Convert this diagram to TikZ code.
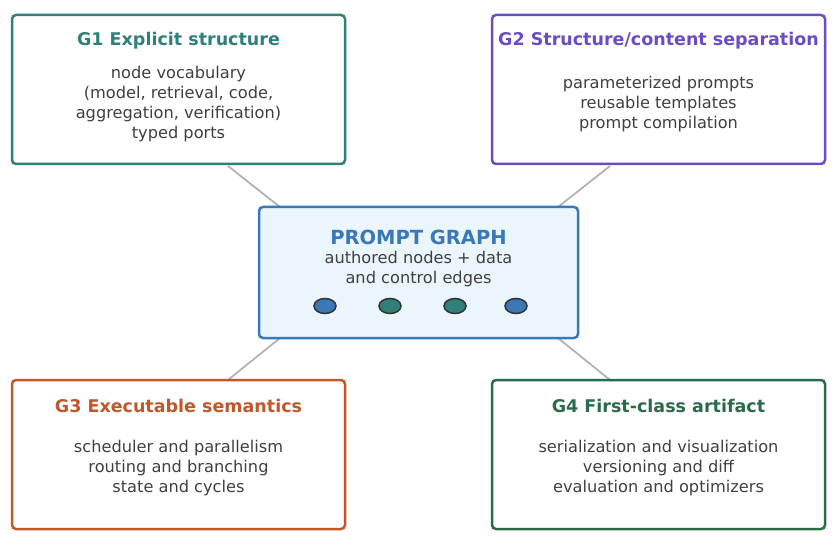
\documentclass[tikz,border=0pt]{standalone}
\usepackage{fontspec}
\usetikzlibrary{shapes.geometric}
\setmainfont{DejaVu Sans}
\begin{document}
\begin{tikzpicture}[x=1pt,y=-1pt,
 box/.style={draw,line width=2.5pt,rounded corners=4pt},
 ttl/.style={font=\fontsize{17.5}{20}\selectfont\bfseries},
 body/.style={font=\fontsize{16.2}{20}\selectfont,text=black!75,align=center},
 link/.style={draw=black!30,line width=1.8pt},
 dot/.style={draw=black!80,line width=1.5pt,ellipse,minimum width=22pt,minimum height=15pt,inner sep=0pt}]
\useasboundingbox (0,0) rectangle (836,548);
\definecolor{cA}{HTML}{2F7F7A}\definecolor{cB}{HTML}{6A4CC4}
\definecolor{cC}{HTML}{C0582A}\definecolor{cD}{HTML}{2A6B4A}
\definecolor{cE}{HTML}{3A78B8}\definecolor{cF}{HTML}{EAF5FC}
\coordinate (l1a) at (228,166); \coordinate (l1b) at (280,207);
\coordinate (l2a) at (610,166); \coordinate (l2b) at (558,207);
\coordinate (l3a) at (228,380); \coordinate (l3b) at (280,338);
\coordinate (l4a) at (610,380); \coordinate (l4b) at (558,338);
\draw[link] (l1a)--(l1b); \draw[link] (l2a)--(l2b);
\draw[link] (l3a)--(l3b); \draw[link] (l4a)--(l4b);
\draw[box,cA,fill=white] (12,15) rectangle (345,164);
\draw[box,cB,fill=white] (492,15) rectangle (825,164);
\draw[box,cC,fill=white] (12,380) rectangle (345,529);
\draw[box,cD,fill=white] (492,380) rectangle (825,529);
\draw[box,cE,fill=cF] (259,207) rectangle (578,338);
\node[ttl,text=cA] (t1) at (178.5,41) {G1 Explicit structure};
\node[body] (b1) at (178.5,104) {node vocabulary\\(model, retrieval, code,\\aggregation, verification)\\typed ports};
\node[ttl,text=cB] (t2) at (658.5,41) {G2 Structure/content separation};
\node[body] (b2) at (658.5,104) {parameterized prompts\\reusable templates\\prompt compilation};
\node[ttl,text=cC] (t3) at (178.5,406) {G3 Executable semantics};
\node[body] (b3) at (178.5,468) {scheduler and parallelism\\routing and branching\\state and cycles};
\node[ttl,text=cD] (t4) at (658.5,406) {G4 First-class artifact};
\node[body] (b4) at (658.5,468) {serialization and visualization\\versioning and diff\\evaluation and optimizers};
\node[font=\fontsize{19.5}{22}\selectfont\bfseries,text=cE] (tc) at (418.5,237) {PROMPT GRAPH};
\node[body] (bc) at (418.5,269) {authored nodes + data\\and control edges};
\node[dot,fill=cE] (d1) at (325,306) {};
\node[dot,fill=cA] (d2) at (390,306) {};
\node[dot,fill=cA] (d3) at (455,306) {};
\node[dot,fill=cE] (d4) at (516,306) {};
\end{tikzpicture}
\end{document}
